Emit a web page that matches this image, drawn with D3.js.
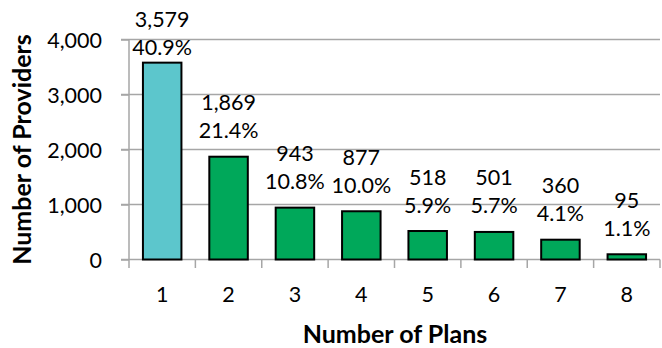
<!DOCTYPE html>
<html><head><meta charset="utf-8">
<script src="https://cdn.jsdelivr.net/npm/d3@7"></script>
<style>body{margin:0;background:#fff}svg{display:block}text{font-family:Lato,"Open Sans",sans-serif;fill:#000}</style>
</head><body>
<script>
const categories = ["1","2","3","4","5","6","7","8"];
const values = [3579, 1869, 943, 877, 518, 501, 360, 95];
const percents = ["40.9%","21.4%","10.8%","10.0%","5.9%","5.7%","4.1%","1.1%"];
const yTicks = [0, 1000, 2000, 3000, 4000];
const barColors = ["#5CC6CC","#00A85A","#00A85A","#00A85A","#00A85A","#00A85A","#00A85A","#00A85A"];

const W = 662, H = 348;
const svg = d3.select("body").append("svg").attr("width", W).attr("height", H);
const x = d3.scaleBand().domain(categories).range([129, 660]).paddingInner(0.42).paddingOuter(0.21);
const y = d3.scaleLinear().domain([0, 4000]).range([259.5, 39.5]);
const grid = "#a6a6a6";
const fs = 21.5;

svg.append("g").selectAll("line").data(yTicks.filter(d => d > 0)).join("line")
  .attr("x1", 121).attr("x2", 660).attr("y1", d => y(d)).attr("y2", d => y(d))
  .attr("stroke", grid).attr("stroke-width", 1.5);

const yAxis = svg.append("g").attr("transform", "translate(129,0)")
  .call(d3.axisLeft(y).tickValues(yTicks).tickFormat(d3.format(",")).tickSize(8).tickPadding(19));
yAxis.select(".domain").attr("stroke", grid).attr("stroke-width", 1.5).attr("d", "M0,39.5V259.5");
yAxis.selectAll(".tick line").attr("stroke", grid).attr("stroke-width", 1.5);
yAxis.selectAll(".tick text").attr("font-size", fs).attr("font-family", "Lato").attr("fill", "#000").attr("dy", "0.35em");

const xTickPos = d3.range(categories.length + 1).map(i => 129 + i * x.step());
svg.append("line").attr("x1", 121).attr("x2", 660).attr("y1", y(0)).attr("y2", y(0)).attr("stroke", grid).attr("stroke-width", 1.5);
svg.append("g").selectAll("line").data(xTickPos).join("line")
  .attr("x1", d => d).attr("x2", d => d).attr("y1", y(0)).attr("y2", y(0) + 8.5)
  .attr("stroke", grid).attr("stroke-width", 1.5);
svg.append("g").selectAll("text").data(categories).join("text")
  .attr("x", d => x(d) + x.bandwidth() / 2).attr("y", 302)
  .attr("text-anchor", "middle").attr("font-size", fs).text(d => d);

svg.append("g").selectAll("rect").data(values).join("rect")
  .attr("x", (d, i) => x(categories[i])).attr("width", x.bandwidth())
  .attr("y", d => y(d)).attr("height", d => y(0) - y(d))
  .attr("fill", (d, i) => barColors[i]).attr("stroke", "#000").attr("stroke-width", 2);

const lab = svg.append("g").selectAll("g").data(values).join("g");
lab.append("text").attr("x", (d, i) => x(categories[i]) + x.bandwidth() / 2)
  .attr("y", d => Math.max(y(d) - 18.5, 55) - 28)
  .attr("text-anchor", "middle").attr("font-size", fs).text(d => d3.format(",")(d));
lab.append("text").attr("x", (d, i) => x(categories[i]) + x.bandwidth() / 2)
  .attr("y", d => Math.max(y(d) - 18.5, 55))
  .attr("text-anchor", "middle").attr("font-size", fs).text((d, i) => percents[i]);

svg.append("text").attr("x", 395).attr("y", 343).attr("text-anchor", "middle")
  .attr("font-size", 25).attr("font-weight", "bold").text("Number of Plans");
svg.append("text").attr("transform", "translate(31,149.5) rotate(-90)").attr("text-anchor", "middle")
  .attr("font-size", 25).attr("font-weight", "bold").text("Number of Providers");
</script>
</body></html>
